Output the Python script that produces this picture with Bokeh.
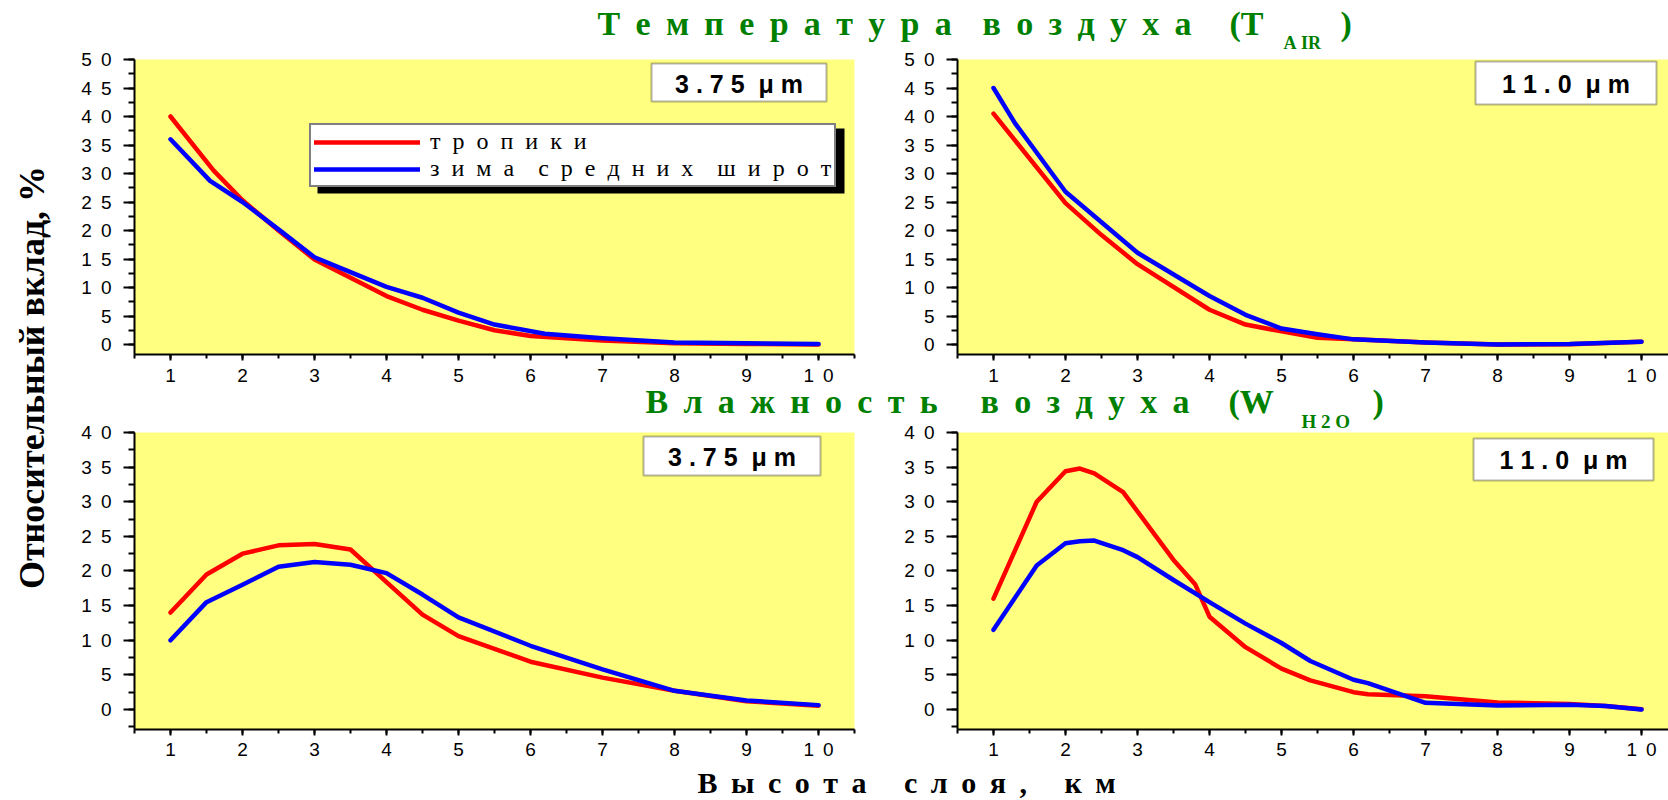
import math
from bokeh.plotting import figure
from bokeh.models import (Range1d, Label, BoxAnnotation, Legend, LegendItem,
                          SingleIntervalTicker, GridBox)
from bokeh.embed import file_html
from bokeh.resources import INLINE

# ---------------- data ----------------
altitude_ticks = [1, 2, 3, 4, 5, 6, 7, 8, 9, 10]
altitude_tick_labels = ["1", "2", "3", "4", "5", "6", "7", "8", "9", "1 0"]
top_y_ticks = [0, 5, 10, 15, 20, 25, 30, 35, 40, 45, 50]
top_y_tick_labels = ["0", "5", "1 0", "1 5", "2 0", "2 5", "3 0", "3 5", "4 0", "4 5", "5 0"]
bottom_y_ticks = [0, 5, 10, 15, 20, 25, 30, 35, 40]
bottom_y_tick_labels = ["0", "5", "1 0", "1 5", "2 0", "2 5", "3 0", "3 5", "4 0"]

series_names = ["тропики", "зима средних широт"]
panel_names = ["3.75 μm", "11.0 μm"]

# Air temperature, 3.75 um
t375_trop_x = [1, 1.6, 2, 2.5, 3, 3.5, 4, 4.5, 5, 5.5, 6, 7, 8, 9, 10]
t375_trop_y = [40, 30.5, 25.3, 20, 14.9, 11.7, 8.5, 6.1, 4.2, 2.5, 1.5, 0.7, 0.2, 0.1, 0.0]
t375_wint_x = [1, 1.55, 2, 2.5, 3, 3.5, 4, 4.5, 5, 5.5, 6.2, 7, 8, 9, 10]
t375_wint_y = [36, 28.7, 25.0, 20.2, 15.3, 12.7, 10.1, 8.2, 5.6, 3.5, 1.9, 1.1, 0.35, 0.2, 0.1]
# Air temperature, 11.0 um
t110_trop_x = [1, 2, 2.5, 3, 4, 4.5, 5, 5.5, 6, 7, 8, 9, 10]
t110_trop_y = [40.5, 24.8, 19.2, 14.1, 6.1, 3.5, 2.3, 1.2, 0.9, 0.35, 0.0, 0.05, 0.5]
t110_wint_x = [1, 1.3, 2, 3, 4, 4.5, 5, 5.5, 6, 7, 8, 9, 10]
t110_wint_y = [45, 38.8, 26.8, 16.1, 8.5, 5.2, 2.8, 1.8, 0.9, 0.35, 0.0, 0.1, 0.5]
# Humidity, 3.75 um
w375_trop_x = [1, 1.5, 2, 2.5, 3, 3.5, 4, 4.5, 5, 6, 7, 8, 9, 10]
w375_trop_y = [14, 19.5, 22.5, 23.7, 23.9, 23.1, 18.4, 13.7, 10.6, 6.9, 4.6, 2.7, 1.2, 0.55]
w375_wint_x = [1, 1.5, 2, 2.5, 3, 3.5, 4, 4.5, 5, 6, 7, 8, 9, 10]
w375_wint_y = [10, 15.5, 18, 20.6, 21.3, 20.9, 19.7, 16.6, 13.3, 9.2, 5.8, 2.7, 1.3, 0.63]
# Humidity, 11.0 um
w110_trop_x = [1, 1.6, 2, 2.2, 2.4, 2.8, 3.5, 3.8, 4, 4.5, 5, 5.4, 6, 6.2, 7, 8, 9, 9.5, 10]
w110_trop_y = [16, 30, 34.4, 34.8, 34.1, 31.4, 21.6, 18.1, 13.4, 9.0, 5.9, 4.2, 2.5, 2.2, 1.9, 1.0, 0.8, 0.5, 0.05]
w110_wint_x = [1, 1.6, 2, 2.2, 2.4, 2.8, 3, 3.5, 4, 4.5, 5, 5.4, 6, 6.2, 7, 8, 9, 9.5, 10]
w110_wint_y = [11.5, 20.8, 24.0, 24.3, 24.4, 23.0, 22.0, 18.7, 15.5, 12.4, 9.6, 7.0, 4.3, 3.8, 0.96, 0.58, 0.67, 0.5, 0.0]

# titles
title1_words = ["Температура", "воздуха", "(T", "A IR", ")"]
title2_words = ["Влажность", "воздуха", "(W", "H 2 O", ")"]
x_title = "Высота слоя, км"
y_title = "Относительный вклад, %"

# ---------------- style ----------------
W, H = 1668, 800
YELLOW = "#ffff80"
GREEN = "#008000"
RED = "#ff0000"
BLUE = "#0000ff"
SERIF = "Liberation Serif"
SANS = "Liberation Sans"
NB = "\u00a0"
TH = "\u2009"
LW = 4.5


def spaced(word, gap):
    return gap.join(word.replace(" ", ""))


def spaced_words(text, gap, word_gap):
    return word_gap.join(spaced(w, gap) for w in text.split(" "))


def tick_text(s):
    return s.replace(" ", NB + TH)


def add_text(p, x, base, text, size, color="black", font=SERIF, style="bold",
             align="left", angle=0.0, centered=False):
    # base: alphabetic baseline in page pixels (converted to the middle of the text box)
    y = base if centered else base - 0.34 * size
    p.add_layout(Label(x=x, y=y, text=text, text_font=font, text_font_size=f"{size}px",
                       text_font_style=style, text_color=color, text_align=align,
                       text_baseline="middle", angle=angle))


def panel(geom, yticks, ylabels, xr_end):
    p = figure(frame_width=geom["fw"], frame_height=geom["fh"], title=None,
               x_range=Range1d(0.5, xr_end), y_range=Range1d(geom["ymin"], geom["ymax"]),
               min_border_left=geom["bl"], min_border_right=geom["br"],
               min_border_top=geom["bt"], min_border_bottom=geom["bb"],
               output_backend="svg", toolbar_location=None,
               background_fill_color=YELLOW, border_fill_color="white", outline_line_color=None)
    p.xgrid.visible = False
    p.ygrid.visible = False
    xa, ya = p.xaxis[0], p.yaxis[0]
    xa.ticker = SingleIntervalTicker(interval=1, num_minor_ticks=2)
    ya.ticker = SingleIntervalTicker(interval=5, num_minor_ticks=2)
    xa.major_label_overrides = {t: tick_text(s) for t, s in zip(altitude_ticks, altitude_tick_labels)}
    ya.major_label_overrides = {t: tick_text(s) for t, s in zip(yticks, ylabels)}
    for a in (xa, ya):
        a.axis_line_width = 2
        a.axis_line_color = "black"
        a.major_tick_line_width = 2
        a.minor_tick_line_width = 2
        a.major_tick_line_color = "black"
        a.minor_tick_line_color = "black"
        a.major_tick_in = 0
        a.minor_tick_in = 0
        a.major_label_text_font = SANS
        a.major_label_text_font_size = "19px"
        a.major_label_text_color = "black"
    xa.major_tick_out = 6
    xa.minor_tick_out = 4
    xa.major_label_standoff = geom["xstand"]
    ya.major_tick_out = 11
    ya.minor_tick_out = 6
    ya.major_label_standoff = 12
    return p


def to_data(geom, left_px, px, py):
    return (0.5 + (px - left_px) / 72.0,
            geom["ymax"] - (py - geom["top_px"]) / geom["sy"])


def add_box_label(p, geom, left_px, x0, y0, x1, y1, text):
    dl, dt = to_data(geom, left_px, x0, y0)
    dr, db = to_data(geom, left_px, x1, y1)
    p.add_layout(BoxAnnotation(left=dl, right=dr, top=dt, bottom=db, fill_color="white",
                               fill_alpha=1, line_color="black", line_width=2))
    cx, cy = to_data(geom, left_px, (x0 + x1) / 2, (y0 + y1) / 2 + 1)
    num, unit = text.split(" ")
    txt = NB.join(num) + NB + NB + NB.join(unit)
    p.add_layout(Label(x=cx, y=cy, text=txt, text_font=SANS, text_font_size="25px",
                       text_font_style="bold", text_color="black", text_align="center",
                       text_baseline="middle"))


# panel geometries (pixels): figure cells are 880/788 wide and 386/414 tall
top_geom = dict(fw=720, fh=295, ymin=-1.754, ymax=50, bl=134, br=26, bt=59, bb=32, xstand=4,
                top_px=59, sy=5.7)
top_geom_r = dict(top_geom, fw=711, bl=77, br=0)
bot_geom = dict(fw=720, fh=297, ymin=-2.89, ymax=40, bl=134, br=26, bt=44, bb=73, xstand=3,
                top_px=430, sy=6.925)
bot_geom_r = dict(bot_geom, fw=711, bl=77, br=0)


def draw_pair(p, xa, ya, xb, yb):
    r1 = p.line(xa, ya, line_color=RED, line_width=LW, line_cap="round", line_join="round")
    r2 = p.line(xb, yb, line_color=BLUE, line_width=LW, line_cap="round", line_join="round")
    return r1, r2


f1 = panel(top_geom, top_y_ticks, top_y_tick_labels, 10.5)
r_trop, r_wint = draw_pair(f1, t375_trop_x, t375_trop_y, t375_wint_x, t375_wint_y)
add_box_label(f1, top_geom, 134, 651, 63, 826, 101, panel_names[0])

f2 = panel(top_geom_r, top_y_ticks, top_y_tick_labels, 10.375)
draw_pair(f2, t110_trop_x, t110_trop_y, t110_wint_x, t110_wint_y)
add_box_label(f2, top_geom_r, 957, 1475, 61, 1656, 104, panel_names[1])

f3 = panel(bot_geom, bottom_y_ticks, bottom_y_tick_labels, 10.5)
draw_pair(f3, w375_trop_x, w375_trop_y, w375_wint_x, w375_wint_y)
add_box_label(f3, bot_geom, 134, 643, 434, 820, 473, panel_names[0])

f4 = panel(bot_geom_r, bottom_y_ticks, bottom_y_tick_labels, 10.375)
draw_pair(f4, w110_trop_x, w110_trop_y, w110_wint_x, w110_wint_y)
add_box_label(f4, bot_geom_r, 957, 1473, 436, 1653, 478, panel_names[1])

# legend with shadow (top-left panel)
sl, st = to_data(top_geom, 134, 317, 128)
sr, sb = to_data(top_geom, 134, 844, 193)
f1.add_layout(BoxAnnotation(left=sl, right=sr, top=st, bottom=sb, fill_color="black",
                            fill_alpha=1, line_color=None))
legend = Legend(items=[LegendItem(label=spaced(series_names[0], NB + NB), renderers=[r_trop]),
                       LegendItem(label=spaced_words(series_names[1], NB + NB, NB * 4), renderers=[r_wint])],
                location=(175, 167), padding=3, spacing=0, margin=0,
                glyph_width=106, glyph_height=22, label_standoff=10,
                label_text_font=SERIF, label_text_font_size="24px", label_text_color="black",
                border_line_color="black", border_line_width=2,
                background_fill_color="white", background_fill_alpha=1)
f1.add_layout(legend)

# transparent full-page overlay holding the titles and axis titles (page pixel coordinates).
# It occupies its own outer grid tracks so its frame is not aligned to the panels' frames.
ov = figure(width=W, height=H, x_range=Range1d(0, W), y_range=Range1d(H, 0),
            title=None, min_border=0, min_border_left=0, min_border_right=0, min_border_top=0,
            min_border_bottom=0, output_backend="svg", toolbar_location=None,
            x_axis_type=None, y_axis_type=None, outline_line_color=None,
            background_fill_color=None, border_fill_color=None)
ov.grid.visible = False

GAP = NB + TH
add_text(ov, 597, 35, spaced(title1_words[0], GAP), 34, GREEN)
add_text(ov, 982, 35, spaced(title1_words[1], GAP), 34, GREEN)
add_text(ov, 1229, 35, title1_words[2], 34, GREEN)
add_text(ov, 1283, 49, title1_words[3].replace(" ", NB), 18, GREEN)
add_text(ov, 1340, 35, title1_words[4], 34, GREEN)

add_text(ov, 645, 413, spaced(title2_words[0], GAP), 34, GREEN)
add_text(ov, 980, 413, spaced(title2_words[1], GAP), 34, GREEN)
add_text(ov, 1228, 413, title2_words[2], 34, GREEN)
add_text(ov, 1301, 427, title2_words[3].replace(" ", NB), 19, GREEN)
add_text(ov, 1372, 413, title2_words[4], 34, GREEN)

add_text(ov, 697, 792, spaced_words(x_title, NB + TH, NB * 5), 30, "black")
add_text(ov, 31, 377, y_title, 36, "black", align="center", angle=math.pi / 2, centered=True)

layout = GridBox(children=[(f1, 1, 1), (f2, 1, 2), (f3, 2, 1), (f4, 2, 2), (ov, 0, 0, 4, 4)],
                 spacing=0)

with open("out.html", "w") as fh:
    fh.write(file_html(layout, INLINE))
